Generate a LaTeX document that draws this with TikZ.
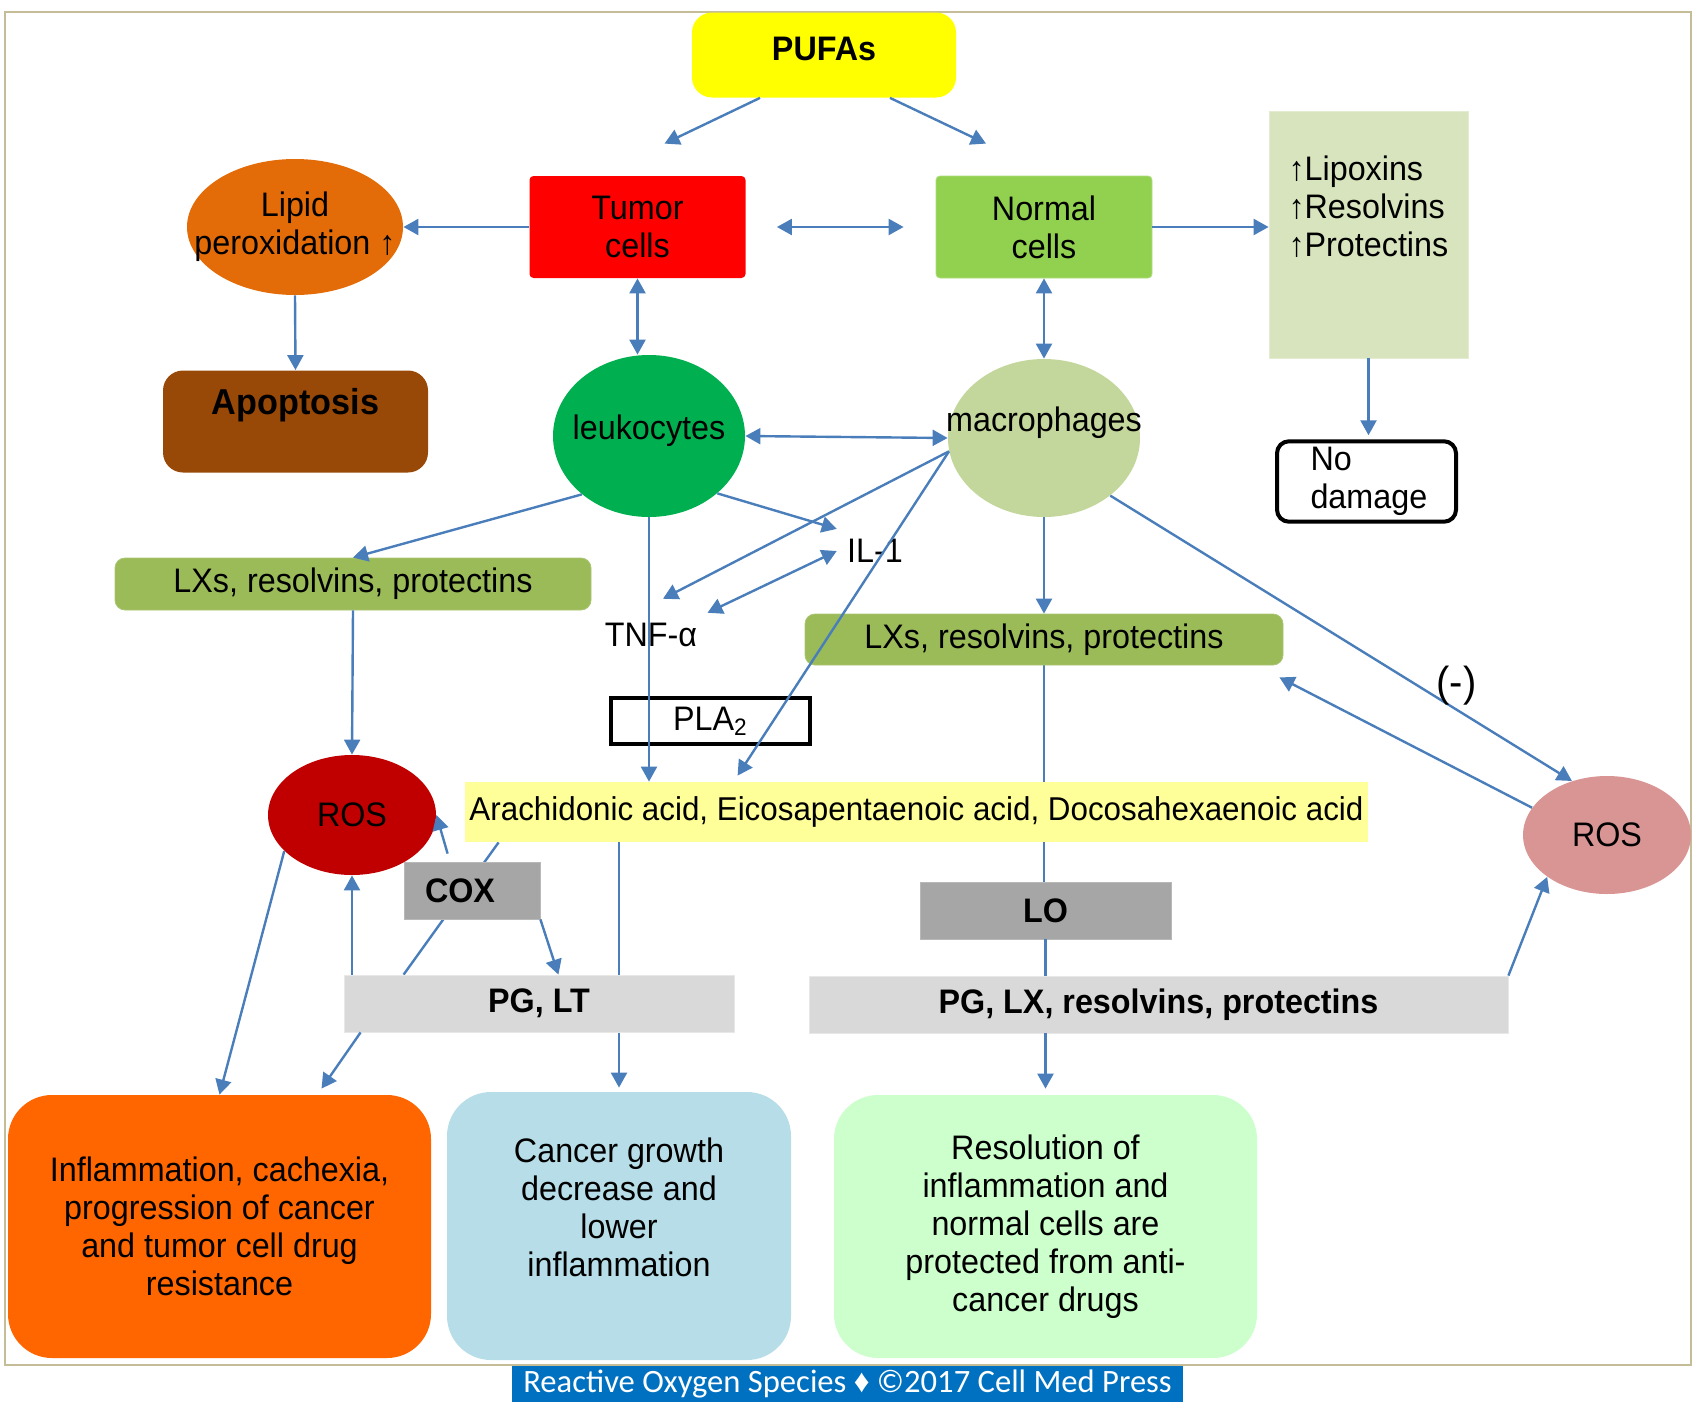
\documentclass[tikz,border=0pt]{standalone}
\usepackage{fontspec}
\setmainfont{Liberation Sans}[FakeStretch=0.95]
\newfontfamily\footfont{Carlito}
\usepackage{tikz}
\usetikzlibrary{positioning,arrows.meta,shapes.geometric,backgrounds}

\definecolor{pufasyellow}{HTML}{FFFF00}
\definecolor{tumorred}{HTML}{FF0000}
\definecolor{normalgreen}{HTML}{92D050}
\definecolor{lipidorange}{HTML}{E36C09}
\definecolor{apobrown}{HTML}{984807}
\definecolor{leukogreen}{HTML}{00B050}
\definecolor{macrogreen}{HTML}{C3D69B}
\definecolor{lipoxgreen}{HTML}{D7E4BD}
\definecolor{lxsgreen}{HTML}{9BBB59}
\definecolor{rosdark}{HTML}{C00000}
\definecolor{rospink}{HTML}{D99594}
\definecolor{acidyellow}{HTML}{FFFF99}
\definecolor{enzgray}{HTML}{A6A6A6}
\definecolor{prodgray}{HTML}{D9D9D9}
\definecolor{inflamorange}{HTML}{FF6600}
\definecolor{cancerblue}{HTML}{B7DEE8}
\definecolor{resolgreen}{HTML}{CCFFCC}
\definecolor{linkblue}{HTML}{4A7EBB}
\definecolor{framebeige}{HTML}{C4BD97}
\definecolor{footblue}{HTML}{0070C0}

\begin{document}
\begin{tikzpicture}[
    x=0.5pt, y=-0.5pt,
    font=\fontsize{17}{19}\selectfont,
    cellbox/.style={rectangle, rounded corners=2pt, minimum width=108pt, minimum height=51pt, align=center},
    blob/.style={ellipse, inner xsep=-20pt, inner ysep=0pt, align=center},
    mediator/.style={rectangle, rounded corners=5pt, fill=lxsgreen, draw=lxsgreen!85!white,
                     minimum width=238pt, minimum height=26pt},
    enzyme/.style={rectangle, fill=enzgray, draw=enzgray!80!white, minimum height=28.5pt,
                   font=\fontsize{17}{19}\selectfont\bfseries},
    product/.style={rectangle, fill=prodgray, draw=prodgray!60!white, minimum height=28.5pt,
                    font=\fontsize{17}{19}\selectfont\bfseries},
    outline/.style={rectangle, draw=black, line width=2pt, inner sep=3pt},
    cytokine/.style={inner sep=5pt},
    outcome/.style={rectangle, rounded corners=22pt, minimum width=211.5pt, minimum height=131.5pt, align=center},
    link/.style={-{Triangle[length=7.5pt,width=8pt]}, draw=linkblue, line width=1.2pt},
    twoway/.style={{Triangle[length=7.5pt,width=8pt]}-{Triangle[length=7.5pt,width=8pt]}, draw=linkblue, line width=1.2pt},
    plainlink/.style={draw=linkblue, line width=1.2pt}
]
\useasboundingbox (0,0) rectangle (1702,1408);
\draw[framebeige, line width=1.3pt] (5,12) rectangle (1691,1365);

% Top: source and cell types
\node[rectangle, rounded corners=10pt, fill=pufasyellow, minimum width=132pt, minimum height=42.5pt,
      text depth=6pt, font=\fontsize{17}{19}\selectfont\bfseries] (pufas) at (824,55) {PUFAs};
\node[cellbox, fill=tumorred] (tumor) at (637.5,227) {Tumor\\cells};
\node[cellbox, fill=normalgreen, draw=normalgreen!75!white] (normal) at (1044,227) {Normal\\cells};
\node[blob, fill=lipidorange, minimum width=108pt, minimum height=68pt] (lipid) at (295,227) {Lipid\\peroxidation ↑};
\node[rectangle, rounded corners=10pt, fill=apobrown, minimum width=132.5pt, minimum height=51pt, align=center,
      font=\fontsize{18}{20}\selectfont\bfseries] (apop) at (295.5,421.5) {Apoptosis\\\mbox{}};
\node[rectangle, fill=lipoxgreen, draw=lipoxgreen!70!white, minimum width=99.5pt, minimum height=123.5pt,
      text width=80pt, align=left] (lipox) at (1368.5,234.5) {↑Lipoxins\\↑Resolvins\\↑Protectins\\[9pt]\mbox{}};
\node[outline, rounded corners=6pt, minimum width=89.5pt, minimum height=39.5pt, text width=56pt, align=left]
      (nodamage) at (1366.5,481.5) {No\\damage};

% Middle: immune cells and mediators
\node[blob, fill=leukogreen, minimum width=96pt, minimum height=81pt, text depth=9pt] (leuko) at (649,436) {leukocytes};
\node[blob, fill=macrogreen, minimum width=96pt, minimum height=79pt] (macro) at (1044,438) {macrophages\\\mbox{}};
\node[mediator] (lxsl) at (353,584) {LXs, resolvins, protectins};
\node[mediator, minimum width=239pt, minimum height=25.5pt] (lxsr) at (1044,639.5) {LXs, resolvins, protectins};
\node[cytokine] (il1) at (875,551) {IL-1};
\node[cytokine] (tnf) at (651,635) {TNF-α};
\node[outline, minimum width=99.5pt, minimum height=23pt] (pla) at (710.5,721) {PLA\textsubscript{2}};
\node[blob, fill=rosdark, minimum width=84pt, minimum height=60pt] (rosl) at (352,815) {ROS};
\node[blob, fill=rospink, minimum width=84pt, minimum height=59pt] (rosr) at (1607,835) {ROS};
\node[rectangle, fill=acidyellow, minimum width=451.5pt, minimum height=30pt, inner sep=0pt,
      font=\fontsize{16.5}{19}\selectfont] (arach) at (916.5,812)
      {Arachidonic acid, Eicosapentaenoic acid, Docosahexaenoic acid};

% Enzymes and products
\node[enzyme, minimum width=68pt, text width=47pt, align=left] (cox) at (472,890.5) {COX};
\node[enzyme, minimum width=125.5pt] (lo) at (1045.5,910.5) {LO};
\node[product, minimum width=195pt] (pglt) at (539,1003.5) {PG, LT};
\node[product, minimum width=349.5pt] (pglx) at (1158.5,1004.5) {PG, LX, resolvins, protectins};

% Bottom: outcomes
\node[outcome, fill=inflamorange] (inflam) at (219.5,1226.5)
      {Inflammation, cachexia,\\progression of cancer\\and tumor cell drug\\resistance};
\node[outcome, fill=cancerblue, minimum width=172pt, minimum height=134pt] (cancer) at (619,1226)
      {Cancer growth\\decrease and\\lower\\inflammation\\\mbox{}};
\node[outcome, fill=resolgreen] (resol) at (1045.5,1226.5)
      {Resolution of\\inflammation and\\normal cells are\\protected from anti-\\cancer drugs};

\node[rectangle, fill=footblue, text=white, minimum width=335.5pt, minimum height=18pt, inner sep=0pt,
      font=\footfont\fontsize{16.3}{18}\selectfont] (footer) at (847.5,1384)
      {Reactive Oxygen Species {\normalfont ♦} ©2017 Cell Med Press};

% PUFAs feed both cell types
\draw[link] ([xshift=-32pt]pufas.south) -- ([xshift=13.5pt,yshift=16pt]tumor.north);
\draw[link] ([xshift=33pt]pufas.south) -- ([xshift=-29pt,yshift=16pt]normal.north);
\draw[twoway, shorten <=15.5pt, shorten >=16pt] (tumor.east) -- (normal.west);

% Tumor side
\draw[link] (tumor.west) -- (lipid.east);
\draw[link] (lipid.south) -- (apop.north);
\draw[twoway] (tumor.south) -- (tumor.south |- leuko.north);

% Normal side
\draw[link] (normal.east) -- (normal.east -| lipox.west);
\draw[link, shorten >=2pt] (lipox.south) -- (lipox.south |- nodamage.north);
\draw[twoway] (normal.south) -- (macro.north);

% Immune cells
\draw[twoway] (leuko.east) -- (macro.west);
\draw[link] (leuko.221) -- (lxsl.north);
\draw[link] (leuko.320) -- (il1.north west);
\draw[link] (leuko.south) -- (leuko.south |- arach.north);
\draw[link] (macro.188) -- ([xshift=6pt,yshift=7pt]tnf.north);
\draw[link] (macro.188) -- ([xshift=136.5pt,yshift=3pt]arach.north west);
\draw[twoway] (il1.west) -- (tnf.north east);
\draw[link] (macro.south) -- (lxsr.north);
\draw[link] (macro.319) -- node[pos=0.75, yshift=12pt, font=\fontsize{21}{24}\selectfont] (neg) {(-)} (rosr.123);

% Left ROS loop
\draw[link] (lxsl.south) -- (rosl.north);
\draw[link] ([xshift=22pt,yshift=4pt]cox.north west) -- (rosl.east);
\draw[link] (cox.south east) -- ([xshift=9pt]cox.south east |- pglt.north);
\draw[link] (rosl.south |- pglt.north) -- (rosl.south);
\draw[link] (rosl.208) -- (inflam.north);
\draw[link] ([xshift=8.5pt]pglt.south west) -- ([xshift=51pt,yshift=3pt]inflam.north);

% Right ROS loop
\draw[link] (rosr.160) -- ([shift={(-2pt,-6pt)}]lxsr.south east);
\draw[link] (pglx.north east) -- (rosr.215);
\draw[plainlink] (lo.south) -- (lo.south |- pglx.north);
\draw[link, shorten >=3pt] (resol.north |- pglx.south) -- (resol.north);

% Lines running behind boxes
\begin{scope}[on background layer]
\draw[plainlink] (lxsr.south) -- (lxsr.south |- lo.north);
\draw[plainlink] ([xshift=17pt]arach.south west) -- ([xshift=30pt]pglt.north west);
\draw[link, shorten >=2pt] (cancer.north |- arach.south) -- (cancer.north);
\end{scope}

\end{tikzpicture}
\end{document}
